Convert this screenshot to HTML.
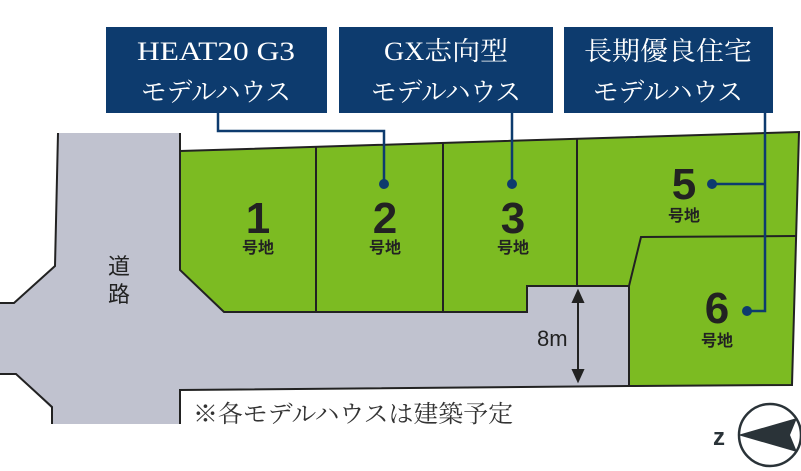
<!DOCTYPE html>
<html><head><meta charset="utf-8"><style>
body{margin:0;background:#fff;width:801px;height:471px;overflow:hidden}
svg{display:block}
.bx{fill:#0d3b6e}
.bt{font-family:"Liberation Serif","Noto Serif CJK SC",serif;font-size:26px;fill:#fff;text-anchor:middle}
.n{font-family:"Liberation Sans",sans-serif;font-weight:bold;font-size:44px;fill:#222;text-anchor:middle}
.g{font-family:"Liberation Sans","Noto Sans CJK JP",sans-serif;font-weight:bold;font-size:16px;fill:#222;text-anchor:middle}
</style></head><body>
<svg width="801" height="471" viewBox="0 0 801 471">
<!-- road -->
<polygon points="58,133 180,133 180,270 224,312 527,312 527,286 629,286 629,386 180,390 180,424 52,424 52,409 16,374 0,374 0,303 14,303 55,266" fill="#c0c2cf"/>
<polyline points="58,133 55,266 14,303 0,303" fill="none" stroke="#222" stroke-width="2"/>
<polyline points="0,374 16,374 52,407 52,424" fill="none" stroke="#222" stroke-width="2"/>
<polyline points="180,133 180,270" fill="none" stroke="#222" stroke-width="2"/>
<polyline points="180,424 180,390 629,386" fill="none" stroke="#222" stroke-width="2"/>
<!-- lots -->
<polygon points="180,151 799,132 792,385 629,386 629,286 527,286 527,312 224,312 180,270" fill="#7cbb22" stroke="#222" stroke-width="2"/>
<g stroke="#222" stroke-width="2" fill="none">
<line x1="316" y1="147" x2="316" y2="312"/>
<line x1="443" y1="143" x2="443" y2="312"/>
<line x1="577" y1="139" x2="577" y2="286"/>
<polyline points="629,286 641,237 796,236"/>
</g>
<!-- boxes -->
<rect class="bx" x="106" y="27" width="221" height="86"/>
<rect class="bx" x="339" y="27" width="214" height="86"/>
<rect class="bx" x="564" y="27" width="209" height="86"/>
<text class="bt" x="216" y="60" textLength="158" lengthAdjust="spacingAndGlyphs">HEAT20 G3</text>
<text class="bt" x="216" y="101" textLength="150" lengthAdjust="spacingAndGlyphs">モデルハウス</text>
<text class="bt" x="446" y="60" textLength="124" lengthAdjust="spacingAndGlyphs">GX志向型</text>
<text class="bt" x="446" y="101" textLength="150" lengthAdjust="spacingAndGlyphs">モデルハウス</text>
<text class="bt" x="668" y="60" textLength="168" lengthAdjust="spacingAndGlyphs">長期優良住宅</text>
<text class="bt" x="668" y="101" textLength="150" lengthAdjust="spacingAndGlyphs">モデルハウス</text>
<!-- connectors -->
<g stroke="#0d3b6e" stroke-width="2.5" fill="none">
<polyline points="218,113 218,131 384,131 384,184"/>
<line x1="512" y1="113" x2="512" y2="184"/>
<polyline points="765,113 765,311 747,311"/>
<line x1="712" y1="184" x2="765" y2="184"/>
</g>
<g fill="#0d3b6e">
<circle cx="384" cy="184" r="5"/><circle cx="512" cy="184" r="5"/>
<circle cx="712" cy="184" r="5"/><circle cx="747" cy="311" r="5"/>
</g>
<!-- labels -->
<text class="n" x="258" y="233">1</text><text class="g" x="258" y="253">号地</text>
<text class="n" x="385" y="233">2</text><text class="g" x="385" y="253">号地</text>
<text class="n" x="513" y="233">3</text><text class="g" x="513" y="253">号地</text>
<text class="n" x="684" y="199">5</text><text class="g" x="684" y="221">号地</text>
<text class="n" x="717" y="323">6</text><text class="g" x="717" y="346">号地</text>
<text font-family="Liberation Sans,Noto Sans CJK JP,sans-serif" font-size="22" fill="#222" text-anchor="middle"><tspan x="119" y="274">道</tspan><tspan x="119" y="302">路</tspan></text>
<text font-family="Liberation Sans,sans-serif" font-size="22" fill="#222" x="537" y="346">8m</text>
<g stroke="#222" stroke-width="2" fill="#222">
<line x1="578" y1="297" x2="578" y2="375"/>
<polygon points="578,291 573,302 583,302"/>
<polygon points="578,381 573,370 583,370"/>
</g>
<text font-family="Liberation Serif,Noto Serif CJK JP,serif" font-size="24" fill="#333" x="193" y="422" textLength="320" lengthAdjust="spacingAndGlyphs">※各モデルハウスは建築予定</text>
<!-- compass -->
<circle cx="770" cy="435" r="31" fill="#fff" stroke="#2a3338" stroke-width="2.5"/>
<polygon points="738,435 797,418 790,435 797,452" fill="#2a3338"/>
<text font-family="Liberation Sans,sans-serif" font-weight="bold" font-size="24" fill="#2a3338" x="713" y="445">z</text>
</svg>
</body></html>
